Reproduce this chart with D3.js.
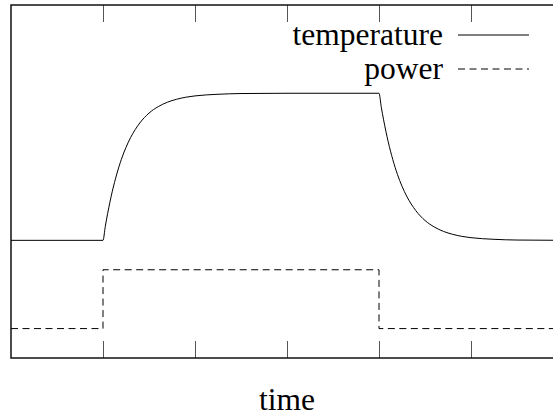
<!DOCTYPE html>
<html>
<head>
<meta charset="utf-8">
<script src="https://cdn.jsdelivr.net/npm/d3@7"></script>
<style>
  body { margin: 0; background: #fff; }
</style>
</head>
<body>
<div id="chart"></div>
<script>
// temperature (0 = idle level, 1 = heated plateau)
const tempTime = [0, 1, 1.025, 1.05, 1.075, 1.1, 1.15, 1.2, 1.25, 1.3, 1.35, 1.4, 1.5, 1.6, 1.7, 1.8, 1.9, 2, 2.25, 2.5, 3, 4,
                  4.025, 4.05, 4.075, 4.1, 4.15, 4.2, 4.25, 4.3, 4.35, 4.4, 4.5, 4.6, 4.7, 4.8, 4.9, 5, 5.25, 5.5, 6]
const tempValue = [0, 0, 0.095, 0.181, 0.259, 0.33, 0.451, 0.551, 0.632, 0.699, 0.753, 0.798, 0.865, 0.909, 0.939, 0.959, 0.973, 0.982, 0.993, 0.998, 1, 1,
                   0.905, 0.819, 0.741, 0.67, 0.549, 0.449, 0.368, 0.301, 0.247, 0.202, 0.135, 0.091, 0.061, 0.041, 0.027, 0.018, 0.007, 0.002, 0]

// power is a step: off, on between t=1 and t=4, off again
const powerTime = [0, 1, 4, 6]
const powerValue = [-0.6, -0.2, -0.6, -0.6]

const xTicks = [1, 2, 3, 4, 5]
const seriesNames = ["temperature", "power"]

const width = 553
const height = 416
const margin = {top: 5, left: 11, bottom: 58}

const svg = d3.select("#chart")
    .append("svg")
    .attr("width", width)
    .attr("height", height)

// plot continues to t=6 just past the right edge of the picture
const x = d3.scaleLinear().domain([0, 6]).range([margin.left, 563])
const y = d3.scaleLinear().domain([-0.8, 1.6]).range([height - margin.bottom, margin.top])

// ticks on top and bottom, pointing inward, no labels
svg.append("g")
    .attr("transform", `translate(0, ${margin.top})`)
    .call(d3.axisBottom(x).tickValues(xTicks).tickSize(17).tickFormat(""))
    .call(g => g.select(".domain").remove())
    .call(g => g.selectAll("line").attr("stroke", "#555"))

svg.append("g")
    .attr("transform", `translate(0, ${height - margin.bottom})`)
    .call(d3.axisTop(x).tickValues(xTicks).tickSize(17).tickFormat(""))
    .call(g => g.select(".domain").remove())
    .call(g => g.selectAll("line").attr("stroke", "#555"))

// frame
svg.append("rect")
    .attr("x", x(0))
    .attr("y", y(1.6))
    .attr("width", x(6) - x(0))
    .attr("height", y(-0.8) - y(1.6))
    .attr("fill", "none")
    .attr("stroke", "#111")
    .style("stroke-width", "1.5px")

const tempLine = d3.line()
    .x((d, i) => x(tempTime[i]))
    .y(d => y(d))
    .curve(d3.curveMonotoneX)

svg.append("path")
    .attr("d", tempLine(tempValue))
    .attr("fill", "none")
    .attr("stroke", "#000")
    .style("stroke-width", "1px")

const powerLine = d3.line()
    .x((d, i) => x(powerTime[i]))
    .y(d => y(d))
    .curve(d3.curveStepAfter)

svg.append("path")
    .attr("d", powerLine(powerValue))
    .attr("fill", "none")
    .attr("stroke", "#000")
    .attr("stroke-dasharray", "7,4.5")
    .style("stroke-width", "1px")

// legend, top right
const legend = svg.append("g")
seriesNames.forEach((name, i) => {
    const ly = 35 + i * 34
    legend.append("text")
        .attr("x", 443)
        .attr("y", ly + 10)
        .attr("text-anchor", "end")
        .attr("font-family", "Liberation Serif")
        .attr("font-size", 31.5)
        .text(name)
    legend.append("line")
        .attr("x1", 458)
        .attr("x2", 529)
        .attr("y1", ly)
        .attr("y2", ly)
        .attr("stroke", "#000")
        .attr("stroke-dasharray", i === 1 ? "7,4.5" : null)
        .style("stroke-width", "1px")
})

svg.append("text")
    .attr("x", x(3))
    .attr("y", 410)
    .attr("text-anchor", "middle")
    .attr("font-family", "Liberation Serif")
    .attr("font-size", 31.5)
    .text("time")
</script>
</body>
</html>
